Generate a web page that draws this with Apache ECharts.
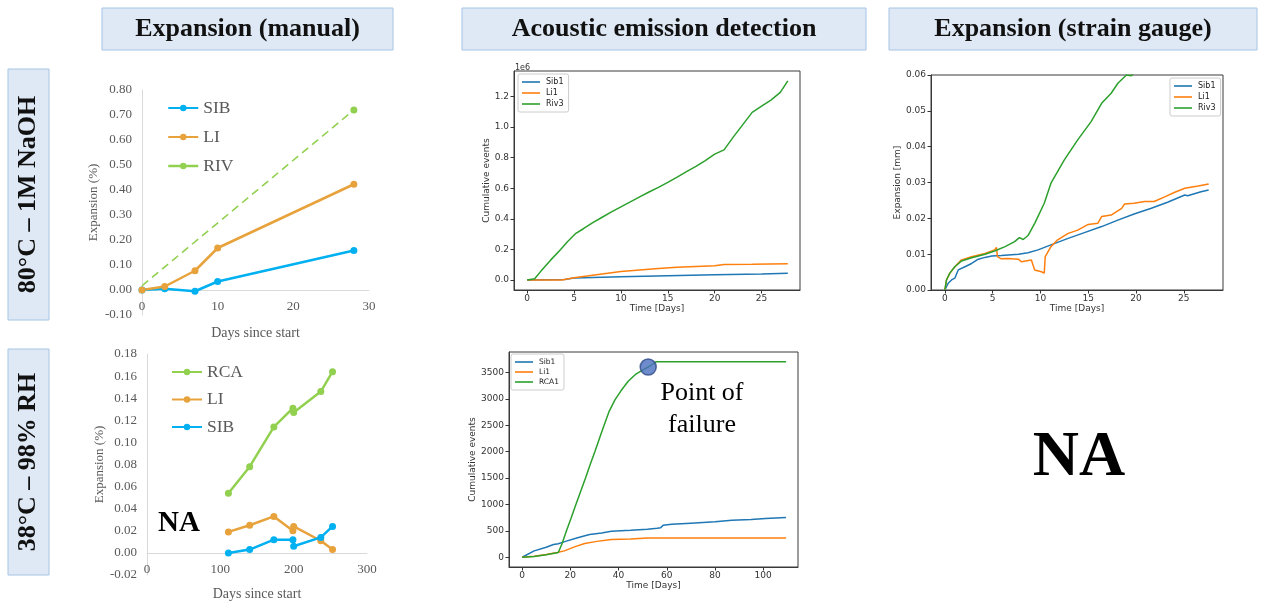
<!DOCTYPE html>
<html>
<head>
<meta charset="utf-8">
<script src="https://cdn.jsdelivr.net/npm/echarts/dist/echarts.min.js"></script>
<style>
  html, body { margin: 0; padding: 0; background: #ffffff; }
  #chart { width: 1271px; height: 601px; }
</style>
</head>
<body>
<div id="chart"></div>
<script>
// ---------- Manual expansion, 80°C – 1M NaOH: [day, expansion %] ----------
const naohSIB = [[0, 0], [3, 0.005], [7, -0.005], [10, 0.034], [28, 0.158]];
const naohLI  = [[0, 0], [3, 0.014], [7, 0.077], [10, 0.168], [28, 0.423]];
const naohRIV = [[0, 0.017], [28, 0.72]];

// ---------- Manual expansion, 38°C – 98% RH: [day, expansion %] ----------
const rhRCA = [[111, 0.054], [140, 0.078], [173, 0.114], [199, 0.131], [200, 0.127], [237, 0.146], [253, 0.164]];
const rhLI  = [[111, 0.019], [140, 0.025], [173, 0.033], [199, 0.020], [200, 0.024], [237, 0.011], [253, 0.003]];
const rhSIB = [[111, 0.000], [140, 0.003], [173, 0.012], [199, 0.012], [200, 0.006], [237, 0.014], [253, 0.024]];

// ---------- Acoustic emission, 80°C – 1M NaOH: [day, cumulative events] ----------
const aeNaohSib1 = [[0, 0], [4, 3000], [5, 14000], [10, 21000], [15, 28000], [20, 34000], [25, 40000], [27.8, 45000]];
const aeNaohLi1 = [[0, 0], [3.7, 1000], [5, 15000], [7, 32000], [9, 48000], [10, 56000], [12, 66000], [14, 76000],
  [16, 84000], [18, 89000], [20, 93000], [21, 101000], [24, 103000], [27.8, 106000]];
const aeNaohRiv3 = [[0, 0], [0.8, 8000], [1.5, 60000], [2.5, 130000], [3.5, 195000], [4.3, 250000], [5.2, 305000],
  [6, 335000], [7, 375000], [8, 410000], [9, 445000], [10, 478000], [11, 510000], [12, 543000], [13, 575000],
  [14, 605000], [15, 638000], [16, 672000], [17, 708000], [18, 742000], [19, 780000], [20, 822000], [21, 850000],
  [22, 935000], [23, 1015000], [24, 1095000], [25, 1135000], [26, 1175000], [27, 1225000], [27.8, 1300000]];

// ---------- Acoustic emission, 38°C – 98% RH: [day, cumulative events] ----------
const aeRhSib1 = [[0, 0], [5, 120], [10, 190], [13, 240], [15, 255], [18, 300], [23, 370], [28, 430], [33, 460],
  [37, 490], [45, 510], [52, 530], [56, 550], [57.5, 560], [58.5, 605], [62, 625], [70, 645], [80, 670], [87, 700],
  [95, 715], [101, 735], [109.5, 752]];
const aeRhLi1 = [[0, 0], [5, 20], [10, 50], [14.5, 90], [17.5, 120], [22, 200], [26, 260], [31, 300], [37, 335],
  [45, 345], [52, 365], [60, 365], [109.5, 365]];
const aeRhRCA1 = [[0, 0], [5, 15], [10, 45], [15, 90], [16.5, 250], [18.4, 500], [20.4, 750], [22.3, 1000],
  [24.3, 1250], [26.3, 1500], [28.2, 1750], [30.2, 2000], [32.1, 2250], [34, 2500], [36, 2750], [38.5, 2980],
  [41, 3150], [44, 3330], [47, 3460], [50, 3540], [53, 3620], [55.5, 3700], [109.5, 3700]];
const failurePoint = [[52.3, 3600]];

// ---------- Strain gauge expansion, 80°C – 1M NaOH: [day, mm] ----------
const sgSib1 = [[0, 0], [0.35, 0.0019], [0.7, 0.0028], [1.04, 0.0033], [1.4, 0.0056], [2.1, 0.0065], [2.8, 0.0074],
  [3.5, 0.0086], [4.2, 0.0091], [4.9, 0.0095], [5.9, 0.0096], [7.7, 0.0100], [8.7, 0.0104], [9.75, 0.0112],
  [11.1, 0.0126], [12.9, 0.0144], [14.6, 0.0160], [16.4, 0.0177], [18.1, 0.0195], [19.8, 0.0212], [21.6, 0.0228],
  [23.3, 0.0245], [25.1, 0.0265], [25.4, 0.0263], [26.8, 0.0274], [27.6, 0.0279]];
const sgLi1 = [[0, 0], [0.17, 0.0028], [0.52, 0.0047], [1.04, 0.0065], [1.74, 0.0084], [2.8, 0.0093], [4.2, 0.0102],
  [5.2, 0.0112], [5.4, 0.0119], [5.5, 0.0093], [5.9, 0.0087], [6.6, 0.0088], [7.7, 0.0086], [8.0, 0.0079],
  [9.05, 0.0084], [9.4, 0.0056], [10.1, 0.0051], [10.4, 0.0047], [10.5, 0.0093], [11.1, 0.0121], [11.8, 0.0140],
  [12.9, 0.0158], [13.9, 0.0167], [15.0, 0.0183], [16.0, 0.0186], [16.4, 0.0205], [17.4, 0.0209], [18.5, 0.0228],
  [18.8, 0.0240], [19.8, 0.0242], [20.9, 0.0247], [21.9, 0.0247], [23.0, 0.0260], [24.0, 0.0272], [25.1, 0.0284],
  [26.5, 0.0290], [27.6, 0.0296]];
const sgRiv3 = [[0, 0], [0.17, 0.0028], [0.52, 0.0047], [1.04, 0.0065], [1.74, 0.0081], [2.8, 0.0090], [4.2, 0.0100],
  [5.2, 0.0109], [6.3, 0.0121], [7.3, 0.0135], [7.8, 0.0146], [8.2, 0.0141], [8.7, 0.0152], [9.4, 0.0186],
  [10.4, 0.0242], [11.1, 0.0298], [12.5, 0.0363], [13.9, 0.0419], [15.3, 0.0470], [16.4, 0.0521], [17.4, 0.0549],
  [18.1, 0.0577], [19.0, 0.0600], [19.5, 0.0598], [20.2, 0.0620]];

// ---------- Tick values ----------
const aeNaohDayTicks = [0, 5, 10, 15, 20, 25];
const aeNaohEventTicks = [0, 200000, 400000, 600000, 800000, 1000000, 1200000];
const aeRhDayTicks = [0, 20, 40, 60, 80, 100];
const aeRhEventTicks = [0, 500, 1000, 1500, 2000, 2500, 3000, 3500];
const sgDayTicks = [0, 5, 10, 15, 20, 25];

// ---------- Texts ----------
const columnTitles = ['Expansion (manual)', 'Acoustic emission detection', 'Expansion (strain gauge)'];
const rowTitles = ['80°C – 1M NaOH', '38°C – 98% RH'];

const C_BLUE = '#00b0f0', C_ORANGE = '#e8a23c', C_GREEN = '#92d050';
const M_BLUE = '#1f77b4', M_ORANGE = '#ff7f0e', M_GREEN = '#2ca02c';
const SERIF = 'Liberation Serif';
const SANS = 'DejaVu Sans';

// Office-style axis pieces; the day axis sits on the zero line (shifted up by `lift` px)
const officeLabel = { color: '#595959', fontFamily: SERIF, fontSize: 13 };
const officeLine = { show: true, onZero: false, lineStyle: { color: '#d9d9d9', width: 1 } };
function officeX(idx, min, max, interval, nameGap, lift) {
  return {
    type: 'value', gridIndex: idx, min, max, interval, position: 'bottom', offset: -lift,
    name: 'Days since start', nameLocation: 'middle', nameGap,
    nameTextStyle: { color: '#595959', fontFamily: SERIF, fontSize: 14 },
    axisLine: officeLine, axisTick: { show: false },
    axisLabel: Object.assign({ margin: 10 }, officeLabel), splitLine: { show: false }
  };
}
function officeY(idx, min, max, interval, nameGap) {
  return {
    type: 'value', gridIndex: idx, min, max, interval,
    name: 'Expansion (%)', nameLocation: 'middle', nameGap,
    nameTextStyle: { color: '#595959', fontFamily: SERIF, fontSize: 13 },
    axisLine: officeLine, axisTick: { show: false },
    axisLabel: Object.assign({ margin: 10, formatter: v => v.toFixed(2) }, officeLabel),
    splitLine: { show: false }
  };
}
function officeSeries(name, data, color, idx, extra) {
  return Object.assign({
    type: 'line', name, data, xAxisIndex: idx, yAxisIndex: idx,
    symbol: 'circle', symbolSize: 7, showSymbol: true, color,
    lineStyle: { width: 2.5, color }, itemStyle: { color }, z: 3
  }, extra || {});
}

// Matplotlib-style axis pieces
const mplText = { color: '#333333', fontFamily: SANS, fontSize: 9 };
function mplAxis(kind, idx, min, max, ticks, fmt, name, nameGap) {
  const tick = { show: true, inside: false, length: 3.5, lineStyle: { color: '#333333', width: 1 } };
  const label = Object.assign({ margin: kind === 'x' ? 4 : 5, formatter: fmt }, mplText);
  if (ticks) { tick.customValues = ticks; label.customValues = ticks; }
  return {
    type: 'value', gridIndex: idx, min, max,
    name, nameLocation: 'middle', nameGap, nameTextStyle: mplText,
    axisLine: { show: true, onZero: false, lineStyle: { color: '#3a3a3a', width: 1 } },
    axisTick: tick, axisLabel: label, splitLine: { show: false }
  };
}
function mplSeries(name, data, color, idx) {
  return {
    type: 'line', name, data, xAxisIndex: idx, yAxisIndex: idx,
    symbol: 'none', color, lineStyle: { width: 1.5, color }, z: 3
  };
}
function mplLegend(names, left, top, fontSize, gap) {
  return {
    data: names, orient: 'vertical', left, top, icon: 'rect',
    itemWidth: 18, itemHeight: 1.6, itemGap: gap,
    padding: [4, 5, 4, 4], borderColor: '#cccccc', borderWidth: 1, borderRadius: 2,
    backgroundColor: 'rgba(255,255,255,0.85)',
    textStyle: { color: '#222222', fontFamily: SANS, fontSize, padding: [0, 0, 0, 1] }
  };
}
function officeLegend(items, left, top, gap) {
  return {
    data: items, orient: 'vertical', left, top,
    itemWidth: 30, itemHeight: 8, itemGap: gap,
    textStyle: { color: '#595959', fontFamily: SERIF, fontSize: 17.5 }
  };
}

// Header boxes and rotated row labels
function headerBox(x, y, w, h, text, rotate) {
  return {
    type: 'group',
    children: [
      { type: 'rect', shape: { x, y, width: w, height: h },
        style: { fill: '#dfe9f5', stroke: '#a6c4e4', lineWidth: 1 } },
      { type: 'text', x: x + w / 2, y: y + h / 2, rotation: rotate ? Math.PI / 2 : 0,
        style: { text, fill: '#111111', font: 'bold 26px "Liberation Serif"',
                 textAlign: 'center', textVerticalAlign: 'middle' } }
    ]
  };
}

const noBounds = { outerBoundsMode: 'none', containLabel: false };
const frame = { show: true, borderColor: '#3a3a3a', borderWidth: 1 };

const option = {
  animation: false,
  backgroundColor: '#ffffff',
  grid: [
    Object.assign({ left: 142, top: 90, width: 227, height: 225 }, noBounds),                 // manual, NaOH
    Object.assign({ left: 147, top: 354, width: 220, height: 221 }, noBounds),                // manual, RH
    Object.assign({ left: 514, top: 71, width: 286, height: 219 }, frame, noBounds),          // AE, NaOH
    Object.assign({ left: 509, top: 352, width: 289, height: 215 }, frame, noBounds),         // AE, RH
    Object.assign({ left: 931, top: 75, width: 292, height: 215 }, frame, noBounds)           // strain gauge
  ],
  xAxis: [
    officeX(0, 0, 30, 10, 36, 25),
    officeX(1, 0, 300, 100, 34, 22.1),
    mplAxis('x', 2, -1.4, 29.1, aeNaohDayTicks, v => String(v), 'Time [Days]', 12),
    mplAxis('x', 3, -5.45, 114.45, aeRhDayTicks, v => String(v), 'Time [Days]', 13),
    mplAxis('x', 4, -1.45, 29.1, sgDayTicks, v => String(v), 'Time [Days]', 13)
  ],
  yAxis: [
    officeY(0, -0.1, 0.8, 0.1, 42),
    officeY(1, -0.02, 0.18, 0.02, 38),
    mplAxis('y', 2, -65000, 1365000, aeNaohEventTicks, v => (v / 1e6).toFixed(1), 'Cumulative events', 22),
    mplAxis('y', 3, -185, 3885, aeRhEventTicks, v => String(v), 'Cumulative events', 29),
    Object.assign(mplAxis('y', 4, 0, 0.06, null, v => v.toFixed(2), 'Expansion [mm]', 28), { interval: 0.01 })
  ],
  legend: [
    officeLegend(['SIB', 'LI', { name: 'RIV', lineStyle: { type: 'solid', width: 2.5 } }], 162, 94, 11),
    officeLegend(['RCA', 'LI', 'SIB'], 166, 358, 9.5),
    mplLegend(['Sib1', 'Li1', 'Riv3'], 518, 74, 8, 3),
    mplLegend(['Sib1', 'Li1', 'RCA1'], 511, 354, 7.5, 2),
    mplLegend(['Sib1', 'Li1', 'Riv3'], 1170, 78, 8, 3)
  ],
  series: [
    officeSeries('SIB', naohSIB, C_BLUE, 0),
    officeSeries('LI', naohLI, C_ORANGE, 0),
    officeSeries('RIV', naohRIV.map((p, i) => (i === 0 ? { value: p, symbol: 'none' } : p)), C_GREEN, 0,
      { lineStyle: { width: 1.6, color: C_GREEN, type: [8, 5] } }),

    officeSeries('RCA', rhRCA, C_GREEN, 1),
    officeSeries('LI', rhLI, C_ORANGE, 1),
    officeSeries('SIB', rhSIB, C_BLUE, 1),

    mplSeries('Sib1', aeNaohSib1, M_BLUE, 2),
    mplSeries('Li1', aeNaohLi1, M_ORANGE, 2),
    mplSeries('Riv3', aeNaohRiv3, M_GREEN, 2),

    mplSeries('Sib1', aeRhSib1, M_BLUE, 3),
    mplSeries('Li1', aeRhLi1, M_ORANGE, 3),
    mplSeries('RCA1', aeRhRCA1, M_GREEN, 3),
    {
      type: 'scatter', name: 'failure', data: failurePoint, xAxisIndex: 3, yAxisIndex: 3,
      symbol: 'circle', symbolSize: 16, z: 5,
      itemStyle: { color: '#4a6fbf', borderColor: '#2f4a87', borderWidth: 1.5 }
    },

    mplSeries('Sib1', sgSib1, M_BLUE, 4),
    mplSeries('Li1', sgLi1, M_ORANGE, 4),
    mplSeries('Riv3', sgRiv3, M_GREEN, 4)
  ],
  graphic: [
    headerBox(102, 8, 291, 42, columnTitles[0], false),
    headerBox(462, 8, 404, 42, columnTitles[1], false),
    headerBox(889, 8, 368, 42, columnTitles[2], false),
    headerBox(8, 69, 41, 251, rowTitles[0], true),
    headerBox(8, 349, 41, 226, rowTitles[1], true),
    { type: 'text', x: 515, y: 68,
      style: { text: '1e6', fill: '#333333', font: '8px "DejaVu Sans"', textVerticalAlign: 'middle' } },
    { type: 'text', x: 179, y: 524,
      style: { text: 'NA', fill: '#000000', font: 'bold 29px "Liberation Serif"',
               textAlign: 'center', textVerticalAlign: 'middle' } },
    { type: 'text', x: 1079, y: 458,
      style: { text: 'NA', fill: '#000000', font: 'bold 64px "Liberation Serif"',
               textAlign: 'center', textVerticalAlign: 'middle' } },
    { type: 'text', x: 702, y: 409, z: 10,
      style: { text: 'Point of\nfailure', fill: '#000000', font: '26px "Liberation Serif"',
               lineHeight: 32, textAlign: 'center', textVerticalAlign: 'middle' } }
  ]
};

const chart = echarts.init(document.getElementById('chart'), null, { renderer: 'canvas' });
chart.setOption(option);
</script>
</body>
</html>
